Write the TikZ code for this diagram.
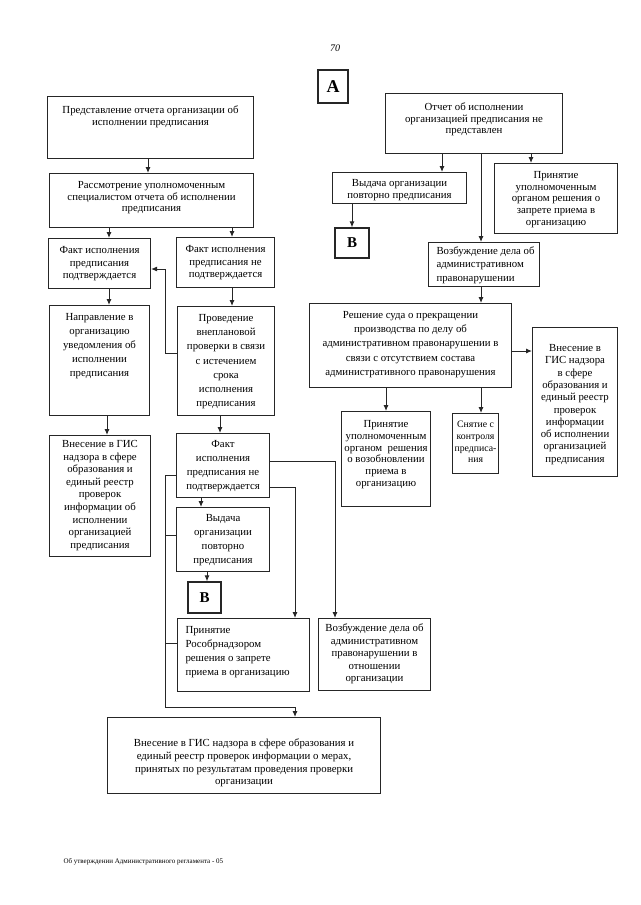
\documentclass[tikz,border=0pt]{standalone}
\usepackage{fontspec}
\setmainfont{Liberation Serif}
\usetikzlibrary{arrows.meta}
\tikzset{
  box/.style={draw=black!85, line width=1.05pt, inner xsep=3pt, inner ysep=0pt, text=black},
  letterbox/.style={draw=black!85, line width=1.2pt, inner sep=0pt, text=black, font=\fontsize{15}{15}\selectfont\bfseries},
  arr/.style={draw=black!85, line width=0.95pt, -{Latex[length=6pt,width=5pt]}},
  ln/.style={draw=black!85, line width=0.95pt},
}
% name, x1, y1, x2, y2, first baseline, baselineskip, alignment, text
\newcommand\flowbox[9]{%
  \pgfmathsetlengthmacro\fbw{(#4)-(#2)-6}%
  \pgfmathsetlengthmacro\fbh{(#5)-(#3)}%
  \node[box, anchor=north west] (#1) at (#2,#3)
    {\parbox[t][\fbh][t]{\fbw}{\fontsize{10.8}{#7}\selectfont#8\rule{0pt}{#6pt}#9}};%
}
\newcommand\cln[1]{\makebox[\linewidth][c]{#1}}
\begin{document}
\begin{tikzpicture}[x=1pt,y=-1pt]
\fill[white] (0,0) rectangle (640,905);
\useasboundingbox (0,0) rectangle (640,905);

\node[font=\fontsize{10}{10}\selectfont\itshape] (pg) at (335,48) {70};
\node[letterbox, minimum width=30pt, minimum height=33pt, font=\fontsize{18}{18}\selectfont\bfseries] (A) at (333,86.5) {А};

% left column
\flowbox{b1}{47}{96}{253}{158}{17}{12}{\centering}{Представление отчета организации об\\исполнении предписания}
\flowbox{b2}{49}{173}{253}{227}{15}{11.7}{\centering}{Рассмотрение уполномоченным\\специалистом отчета об исполнении\\предписания}
\flowbox{b3}{48}{238}{150}{288}{15}{12.5}{\centering}{Факт исполнения\\предписания\\подтверждается}
\flowbox{b4}{176}{237}{274}{287}{15}{12.5}{\centering}{Факт исполнения\\предписания не\\подтверждается}
\flowbox{b5}{49}{305}{149}{415}{15}{14}{\centering}{Направление в\\организацию\\уведомления об\\исполнении\\предписания}
\flowbox{b6}{177}{306}{274}{415}{15}{14.2}{\centering}{Проведение\\внеплановой\\проверки в связи\\с истечением\\срока\\исполнения\\предписания}
\flowbox{b7}{49}{435}{150}{556}{12}{12.6}{\centering}{Внесение в ГИС\\надзора в сфере\\образования и\\единый реестр\\проверок\\информации об\\исполнении\\организацией\\предписания}
\flowbox{b8}{176}{433}{269}{497}{14}{14.1}{\centering}{Факт\\исполнения\\предписания не\\подтверждается}
\flowbox{b9}{176}{507}{269}{571}{14}{14}{\centering}{Выдача\\организации\\повторно\\предписания}
\node[letterbox, minimum width=33pt, minimum height=31pt] (BL) at (204.5,597.5) {В};
\flowbox{b11}{177}{618}{309}{691}{15}{14}{\raggedright\leftskip=5pt}{Принятие\\Рособрнадзором\\решения о запрете\\\mbox{приема в организацию}}
\flowbox{b12}{318}{618}{430}{690}{13}{12.5}{\centering}{\cln{Возбуждение дела об}\\административном\\правонарушении в\\отношении\\организации}
\flowbox{b13}{107}{717}{380}{793}{29}{12.8}{\centering}{Внесение в ГИС надзора в сфере образования и\\единый реестр проверок информации о мерах,\\принятых по результатам проведения проверки\\организации}

% right column
\flowbox{r1}{385}{93}{562}{153}{17}{11.7}{\centering}{Отчет об исполнении\\организацией предписания не\\представлен}
\flowbox{r2}{332}{172}{466}{203}{14}{11.7}{\centering}{Выдача организации\\повторно предписания}
\flowbox{r3}{494}{163}{617}{233}{15}{11.7}{\centering}{Принятие\\уполномоченным\\органом решения о\\запрете приема в\\организацию}
\node[letterbox, minimum width=34pt, minimum height=30pt] (BR) at (352,243) {В};
\flowbox{r4}{428}{242}{539}{286}{12}{13.3}{\raggedright\leftskip=5pt}{\mbox{Возбуждение дела об}\\административном\\правонарушении}
\flowbox{r5}{309}{303}{511}{387}{15}{14.2}{\centering}{Решение суда о прекращении\\производства по делу об\\административном правонарушении в\\связи с отсутствием состава\\административного правонарушения}
\flowbox{r6}{532}{327}{617}{476}{24}{12.3}{\centering}{Внесение в\\ГИС надзора\\в сфере\\образования и\\единый реестр\\проверок\\информации\\об исполнении\\организацией\\предписания}
\flowbox{r7}{341}{411}{430}{506}{16}{11.8}{\centering}{Принятие\\\cln{уполномоченным}\\\cln{органом\ \ решения}\\\cln{о возобновлении}\\приема в\\организацию}
\flowbox{r8}{452}{413}{498}{473}{14}{11.8}{\centering\fontsize{9.8}{11.8}\selectfont}{\cln{Снятие с}\\\cln{контроля}\\\cln{предписа-}\\\cln{ния}}

\node[font=\fontsize{7}{8}\selectfont, anchor=west, text=black] (foot) at (60,862) {Об утверждении Административного регламента - 05};

% left connectors
\draw[arr] (b1.south -| 148,0) -- (b2.north -| 148,0);
\draw[arr] (b2.south -| 109,0) -- (b3.north -| 109,0);
\draw[arr] (b2.south -| 232,0) -- (b4.north -| 232,0);
\draw[arr] (b3.south -| 109,0) -- (b5.north -| 109,0);
\draw[arr] (b4.south -| 232,0) -- (b6.north -| 232,0);
\draw[arr] (b6.west |- 0,353) -- (165,353) -- (165,269) -- (b3.east |- 0,269);
\draw[arr] (b5.south -| 107,0) -- (b7.north -| 107,0);
\draw[arr] (b6.south -| 220,0) -- (b8.north -| 220,0);
\draw[arr] (b8.south -| 201,0) -- (b9.north -| 201,0);
\draw[arr] (b9.south -| 207,0) -- (BL.north -| 207,0);
\draw[arr] (b8.east |- 0,461) -- (335,461) -- (b12.north -| 335,0);
\draw[arr] (b8.east |- 0,487) -- (295,487) -- (b11.north -| 295,0);
\draw[arr] (b8.west |- 0,475) -- (165,475) -- (165,707) -- (295,707) -- (b13.north -| 295,0);
\draw[ln] (b9.west |- 0,535) -- (165,535);
\draw[ln] (b11.west |- 0,643) -- (165,643);

% right connectors
\draw[arr] (r1.south -| 442,0) -- (r2.north -| 442,0);
\draw[arr] (r1.south -| 481,0) -- (r4.north -| 481,0);
\draw[arr] (r1.south -| 531,0) -- (r3.north -| 531,0);
\draw[arr] (r2.south -| 352,0) -- (BR.north -| 352,0);
\draw[arr] (r4.south -| 481,0) -- (r5.north -| 481,0);
\draw[arr] (r5.east |- 0,351) -- (r6.west |- 0,351);
\draw[arr] (r5.south -| 386,0) -- (r7.north -| 386,0);
\draw[arr] (r5.south -| 481,0) -- (r8.north -| 481,0);
\end{tikzpicture}
\end{document}
